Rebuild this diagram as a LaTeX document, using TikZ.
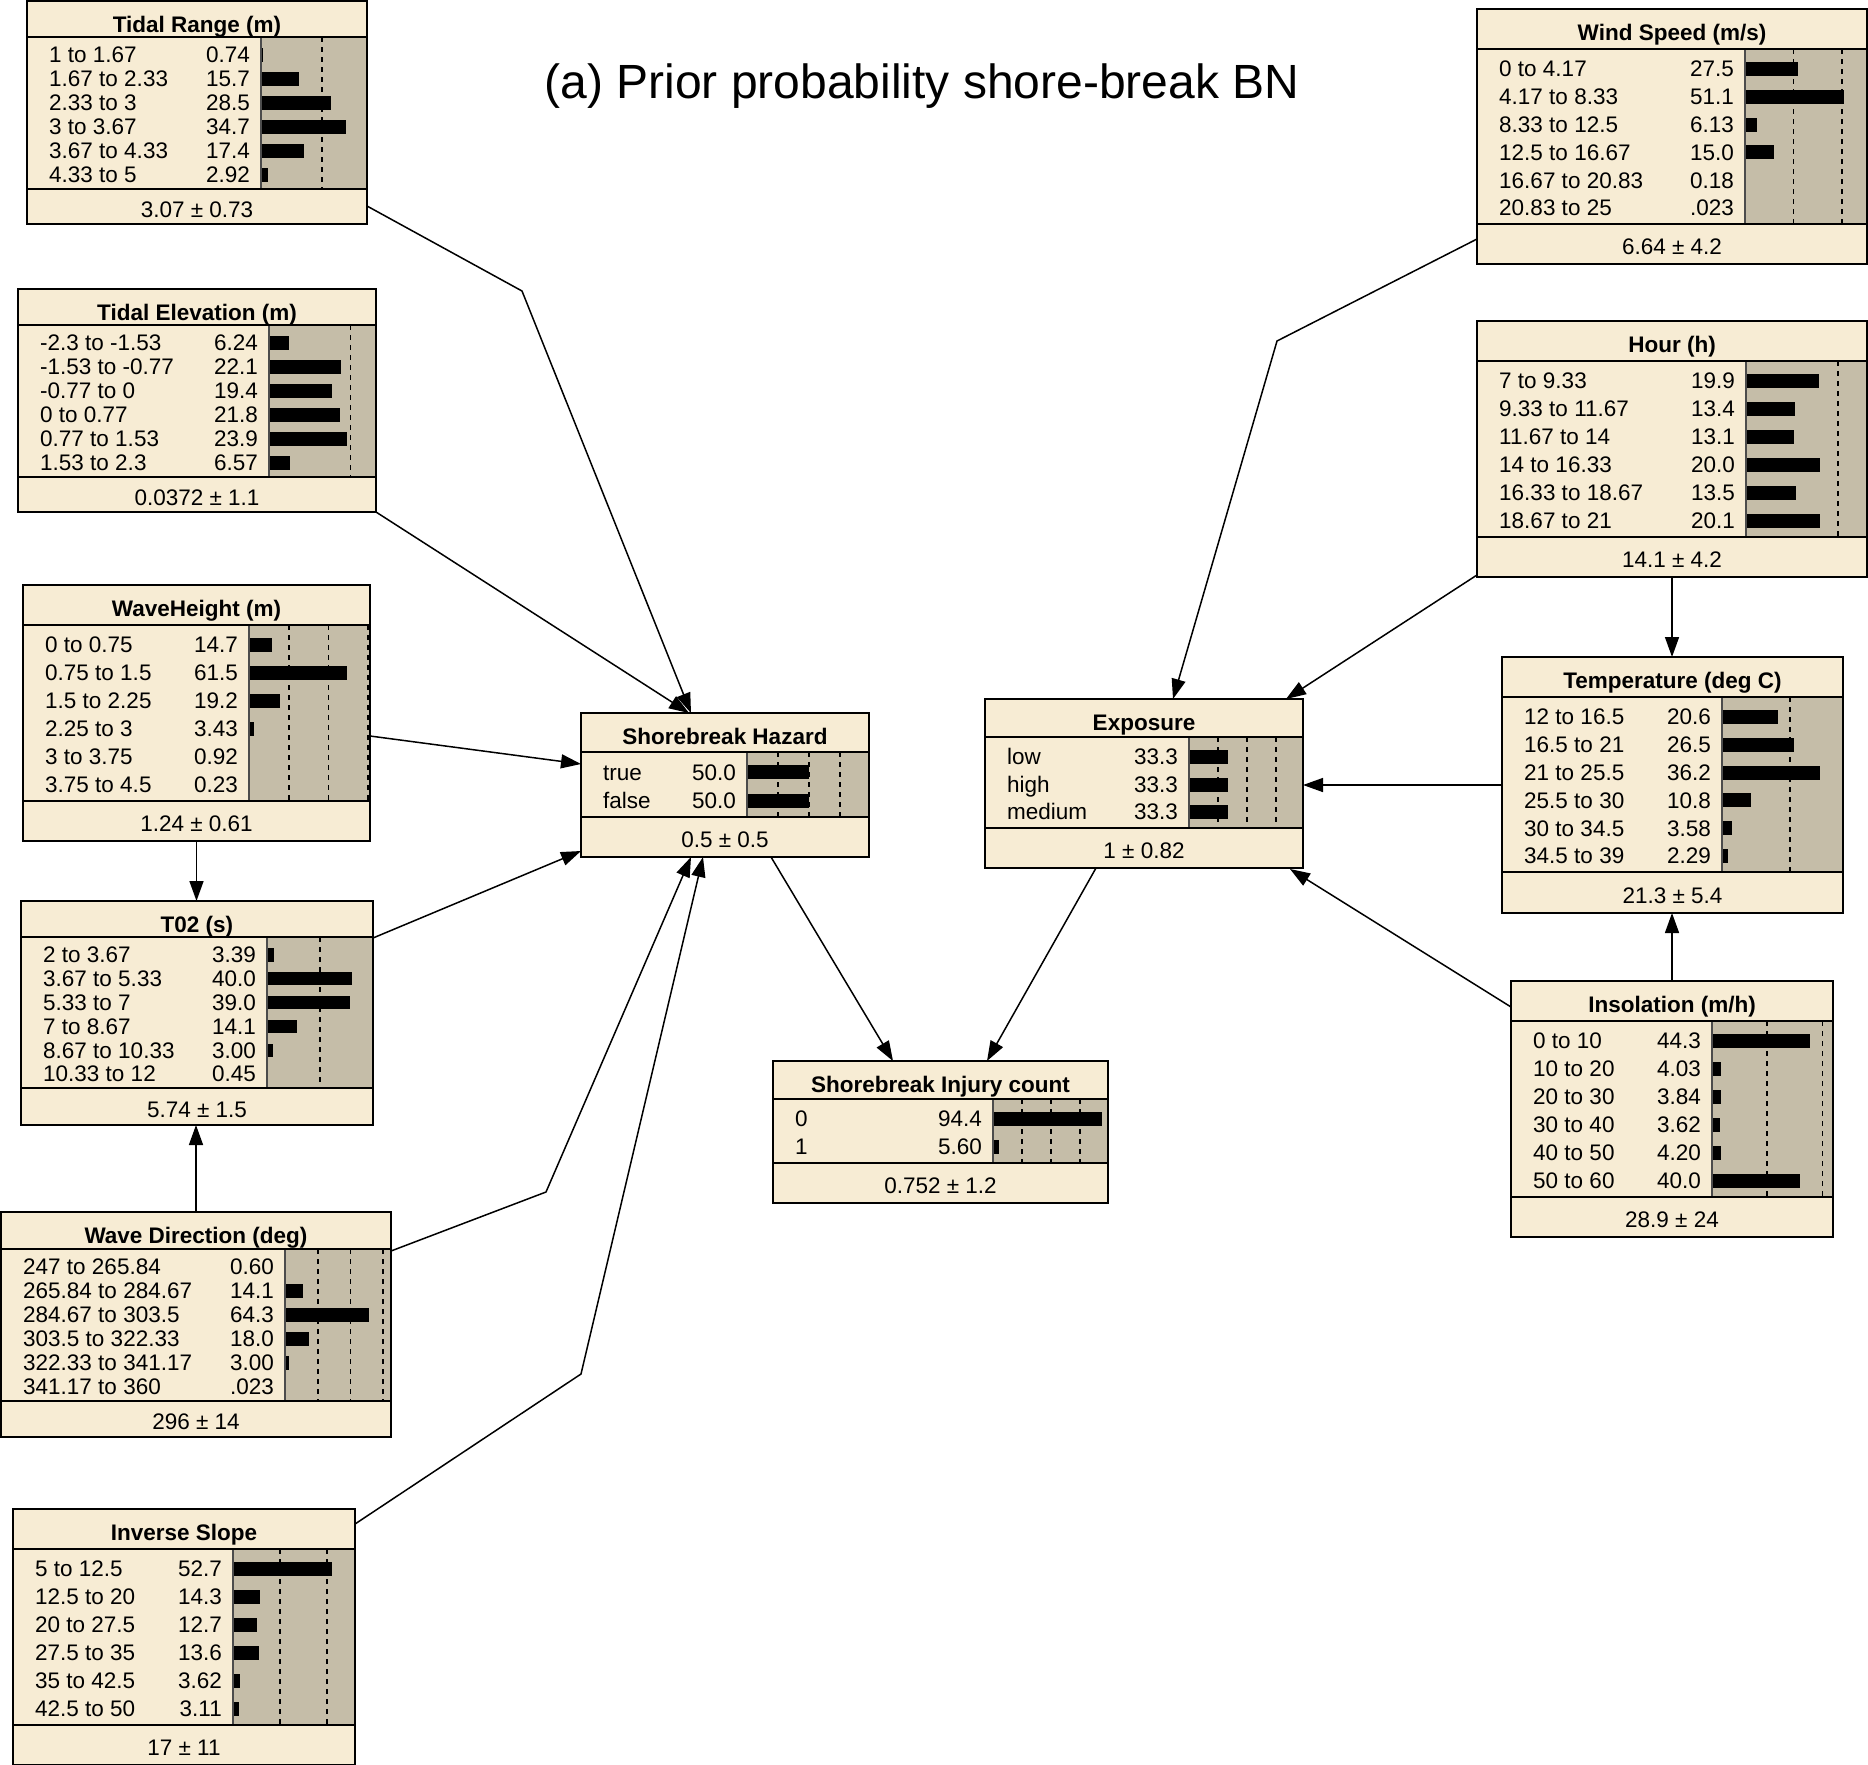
\documentclass[tikz,border=0pt]{standalone}
\usepackage{fontspec}
\setmainfont{Liberation Sans}
\usetikzlibrary{arrows.meta,calc}
\definecolor{cream}{HTML}{F7ECD4}
\definecolor{histbg}{HTML}{C5BDA8}
\tikzset{
 bnframe/.style={fill=cream, inner sep=0pt, outer sep=0pt, rectangle},
 rowtxt/.style={inner sep=0pt, font=\fontsize{22.5}{26}\selectfont},
 titletxt/.style={inner sep=0pt, font=\fontsize{22.5}{26}\selectfont\bfseries},
 sep/.style={line width=2pt},
 thinsep/.style={line width=1.2pt, black!70},
 dashln/.style={line width=1.8pt, dash pattern=on 5pt off 5pt},
 link/.style={line width=1.5pt, -{Triangle[length=20pt,width=14pt]}},
}
% name L T R Y1 Y2 B H S
\newcommand\bn[9]{%
  \pgfmathsetmacro\bw{#4-#2}\pgfmathsetmacro\bhgt{#7-#3}%
  \node[bnframe, minimum width=\bw pt, minimum height=\bhgt pt, anchor=north west] (#1) at (#2,#3) {};
  \fill[histbg] (#8,#5) rectangle (#4,#6);
  \foreach \dd in \dashes {\draw[dashln] ({#8+\dd*#9},#5) -- ({#8+\dd*#9},#6);}
  \foreach \xx [count=\cnt] in \rows {\xdef\nr{\cnt}}
  \pgfmathsetmacro\pitch{(#6-#5-8)/\nr}%
  \pgfmathsetmacro\bh{min(7,0.28*\pitch)}%
  \foreach \rlab/\rval/\rnum [count=\i from 0] in \rows {
    \pgfmathsetmacro\cy{#5+6+\pitch*(\i+0.5)}
    \fill ({#8},{\cy-\bh}) rectangle ({#8+\rnum*#9},{\cy+\bh});
    \node[rowtxt, anchor=base west] (#1-l\i) at ({#2+22},{\cy+7.8}) {\rlab};
    \node[rowtxt, anchor=base east] (#1-v\i) at ({#8-11},{\cy+7.8}) {\rval};
  }
  \draw[thinsep] (#8,#5) -- (#8,#6);
  \draw[sep] (#2,#5) -- (#4,#5) (#2,#6) -- (#4,#6);
  \node[titletxt, anchor=base] (#1-t) at ({(#2+#4)/2},{#3+31}) {\ttl};
  \node[rowtxt, anchor=base] (#1-f) at ({(#2+#4)/2},{(#6+#7)/2+10.5}) {\ftr};
  \draw[sep] (#2,#3) rectangle (#4,#7);
}
\begin{document}
\begin{tikzpicture}[x=1pt,y=-1pt]
\useasboundingbox (0,0) rectangle (1868,1764);
\node[anchor=base, inner sep=0pt, font=\fontsize{48}{56}\selectfont] (title) at (922,98) {(a) Prior probability shore-break BN};

\def\ttl{Tidal Range (m)}\def\ftr{3.07 ± 0.73}\def\dashes{25}
\def\rows{1 to 1.67/0.74/0.74, 1.67 to 2.33/15.7/15.7, 2.33 to 3/28.5/28.5, 3 to 3.67/34.7/34.7, 3.67 to 4.33/17.4/17.4, 4.33 to 5/2.92/2.92}
\bn{tr}{27}{1}{367}{37}{189}{224}{261}{2.45}

\def\ttl{Tidal Elevation (m)}\def\ftr{0.0372 ± 1.1}\def\dashes{25}
\def\rows{-2.3 to -1.53/6.24/6.24, -1.53 to -0.77/22.1/22.1, -0.77 to 0/19.4/19.4, 0 to 0.77/21.8/21.8, 0.77 to 1.53/23.9/23.9, 1.53 to 2.3/6.57/6.57}
\bn{te}{18}{289}{376}{325}{477}{512}{269}{3.26}

\def\ttl{WaveHeight (m)}\def\ftr{1.24 ± 0.61}\def\dashes{25,50,75}
\def\rows{0 to 0.75/14.7/14.7, 0.75 to 1.5/61.5/61.5, 1.5 to 2.25/19.2/19.2, 2.25 to 3/3.43/3.43, 3 to 3.75/0.92/0.92, 3.75 to 4.5/0.23/0.23}
\bn{wh}{23}{585}{370}{625}{801}{841}{249}{1.59}

\def\ttl{T02 (s)}\def\ftr{5.74 ± 1.5}\def\dashes{25}
\def\rows{2 to 3.67/3.39/3.39, 3.67 to 5.33/40.0/40.0, 5.33 to 7/39.0/39.0, 7 to 8.67/14.1/14.1, 8.67 to 10.33/3.00/3.00, 10.33 to 12/0.45/0.45}
\bn{t02}{21}{901}{373}{937}{1088}{1125}{267}{2.12}

\def\ttl{Wave Direction (deg)}\def\ftr{296 ± 14}\def\dashes{25,50,75}
\def\rows{247 to 265.84/0.60/0.60, 265.84 to 284.67/14.1/14.1, 284.67 to 303.5/64.3/64.3, 303.5 to 322.33/18.0/18.0, 322.33 to 341.17/3.00/3.00, 341.17 to 360/.023/0.023}
\bn{wd}{1}{1212}{391}{1249}{1401}{1437}{285}{1.31}

\def\ttl{Inverse Slope}\def\ftr{17 ± 11}\def\dashes{25,50}
\def\rows{5 to 12.5/52.7/52.7, 12.5 to 20/14.3/14.3, 20 to 27.5/12.7/12.7, 27.5 to 35/13.6/13.6, 35 to 42.5/3.62/3.62, 42.5 to 50/3.11/3.11}
\bn{is}{13}{1509}{355}{1549}{1725}{1765}{233}{1.88}

\def\ttl{Shorebreak Hazard}\def\ftr{0.5 ± 0.5}\def\dashes{25,50,75}
\def\rows{true/50.0/50.0, false/50.0/50.0}
\bn{haz}{581}{713}{869}{752}{817}{857}{747}{1.24}

\def\ttl{Shorebreak Injury count}\def\ftr{0.752 ± 1.2}\def\dashes{25,50,75}
\def\rows{0/94.4/94.4, 1/5.60/5.60}
\bn{inj}{773}{1061}{1108}{1099}{1163}{1203}{993}{1.155}

\def\ttl{Exposure}\def\ftr{1 ± 0.82}\def\dashes{25,50,75}
\def\rows{low/33.3/33.3, high/33.3/33.3, medium/33.3/33.3}
\bn{exp}{985}{699}{1303}{737}{828}{868}{1189}{1.16}

\def\ttl{Wind Speed (m/s)}\def\ftr{6.64 ± 4.2}\def\dashes{25,50}
\def\rows{0 to 4.17/27.5/27.5, 4.17 to 8.33/51.1/51.1, 8.33 to 12.5/6.13/6.13, 12.5 to 16.67/15.0/15.0, 16.67 to 20.83/0.18/0.18, 20.83 to 25/.023/0.023}
\bn{ws}{1477}{9}{1867}{49}{224}{264}{1745}{1.94}

\def\ttl{Hour (h)}\def\ftr{14.1 ± 4.2}\def\dashes{25}
\def\rows{7 to 9.33/19.9/19.9, 9.33 to 11.67/13.4/13.4, 11.67 to 14/13.1/13.1, 14 to 16.33/20.0/20.0, 16.33 to 18.67/13.5/13.5, 18.67 to 21/20.1/20.1}
\bn{hr}{1477}{321}{1867}{361}{537}{577}{1746}{3.68}

\def\ttl{Temperature (deg C)}\def\ftr{21.3 ± 5.4}\def\dashes{25}
\def\rows{12 to 16.5/20.6/20.6, 16.5 to 21/26.5/26.5, 21 to 25.5/36.2/36.2, 25.5 to 30/10.8/10.8, 30 to 34.5/3.58/3.58, 34.5 to 39/2.29/2.29}
\bn{tmp}{1502}{657}{1843}{697}{872}{913}{1722}{2.71}

\def\ttl{Insolation (m/h)}\def\ftr{28.9 ± 24}\def\dashes{25,50}
\def\rows{0 to 10/44.3/44.3, 10 to 20/4.03/4.03, 20 to 30/3.84/3.84, 30 to 40/3.62/3.62, 40 to 50/4.20/4.20, 50 to 60/40.0/40.0}
\bn{ins}{1511}{981}{1833}{1021}{1197}{1237}{1712}{2.21}

% bend points
\coordinate (b1) at (522,291);
\coordinate (b2) at (546,1192);
\coordinate (b3) at (581,1374);
\coordinate (b4) at (1277,341);

\draw[link] ($(tr.north west)+(340,205)$) -- (b1) -- ($(haz.north west)+(110,0)$);
\draw[link] (te.south east) -- ($(haz.north west)+(108,0)$);
\draw[link] ($(wh.north west)+(347,151)$) -- ($(haz.north west)+(0,51)$);
\draw[link] ($(t02.north west)+(352,37)$) -- ($(haz.north west)+(0,138)$);
\draw[link] (wh.south) -- (wh.south |- t02.north);
\draw[link] (wd.north) -- (wd.north |- t02.south);
\draw[link] ($(wd.north west)+(390,39)$) -- (b2) -- ($(haz.north west)+(110,144)$);
\draw[link] ($(is.north west)+(342,15)$) -- (b3) -- ($(haz.north west)+(122,144)$);
\draw[link] ($(haz.north west)+(190,144)$) -- ($(inj.north west)+(120,0)$);
\draw[link] ($(exp.north west)+(111,169)$) -- ($(inj.north west)+(214,0)$);
\draw[link] ($(ws.north west)+(0,230)$) -- (b4) -- ($(exp.north west)+(188,0)$);
\draw[link] ($(hr.north west)+(0,254)$) -- ($(exp.north west)+(301,0)$);
\draw[link] (hr.south) -- (hr.south |- tmp.north);
\draw[link] (tmp.west) -- (tmp.west -| exp.east);
\draw[link] (ins.north) -- (ins.north |- tmp.south);
\draw[link] ($(ins.north west)+(0,26)$) -- ($(exp.north west)+(305,170)$);
\end{tikzpicture}
\end{document}
